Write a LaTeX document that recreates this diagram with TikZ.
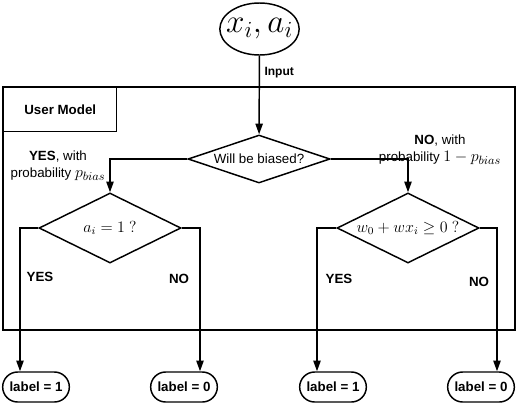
\documentclass[tikz,border=0pt]{standalone}
\usepackage{fontspec}
\setmainfont{Liberation Sans}
\usepackage{tikz}
\usetikzlibrary{shapes}
\usetikzlibrary{shapes.geometric}
\usetikzlibrary{shapes.misc}
\usetikzlibrary{arrows.meta}
\tikzset{
    inode/.style = {ellipse, draw=black, line width=1.1pt, minimum width=56pt, minimum height=39pt, inner xsep=-4pt, inner ysep=0pt, font=\fontsize{23}{26}\selectfont},
    dnode/.style = {diamond, draw=black, line width=1.1pt, minimum width=106.5pt, minimum height=52.5pt, inner sep=0pt, aspect=2, font=\fontsize{11.5}{13}\selectfont},
    lnode/.style = {rounded rectangle, draw=black, line width=1.1pt, minimum width=50pt, minimum height=22.5pt, inner sep=0pt, font=\fontsize{10}{12}\selectfont\bfseries},
}

\begin{document}
\begin{tikzpicture}[
	x=0.75pt,
	y=-0.75pt,
	line width=1.1pt,
	font=\fontsize{10}{12.75}\selectfont
]
\tikzset{
    edgea/.style = {-{Triangle[length=8pt,width=5.5pt]}},
    ans/.style = {font=\fontsize{10}{12}\selectfont\bfseries},
}
\useasboundingbox (0,0) rectangle (518,404);
\node[inode] at (259.5,29) (in) {$x_i, a_i$};
\node[rectangle, draw=black, minimum width=384pt, minimum height=182.25pt] at (259,208.5) (um) {};
\node[rectangle, draw=black, anchor=north west, minimum width=84.75pt, minimum height=33pt, font=\fontsize{10}{12}\selectfont\bfseries] at (3,87) (tab) {User Model};
%
\node[dnode, aspect=3, minimum height=36pt, font=\fontsize{10}{12}\selectfont] at (259,159) (bias) {Will be biased?};
\node[dnode] at (110,228) (da) {$a_i = 1\ ?$};
\node[dnode] at (408,228) (dw) {$w_0 + wx_i \geq 0\ ?$};
%
\node[lnode] at (36,387) (l1) {label = 1};
\node[lnode] at (184,387) (l2) {label = 0};
\node[lnode] at (333,387) (l3) {label = 1};
\node[lnode] at (481,387) (l4) {label = 0};
%
\draw[edgea] (in) edge node[right, pos=0.21, font=\fontsize{9}{10}\selectfont\bfseries] {Input} (bias);
\draw[edgea] (bias.west) -| (da.north);
\draw[edgea] (bias.east) -| (dw.north);
\node[align=center] at (58,166) (yb) {\textbf{YES}, with\\probability {\fontsize{13}{12.75}\selectfont$p_{bias}$}};
\node[align=center] at (440,150) (nb) {\textbf{NO}, with\\probability {\fontsize{13}{12.75}\selectfont$1-p_{bias}$}};
%
\draw[edgea] (da.west) -| ([xshift=-12pt]l1.north);
\draw[edgea] (da.east) -| ([xshift=12pt]l2.north);
\draw[edgea] (dw.west) -| ([xshift=-12pt]l3.north);
\draw[edgea] (dw.east) -| ([xshift=12pt]l4.north);
\node[ans] at (40,277) (ya) {YES};
\node[ans] at (179,279) (na) {NO};
\node[ans] at (339,279) (yw) {YES};
\node[ans] at (479,282) (nw) {NO};
\end{tikzpicture}
\end{document}
